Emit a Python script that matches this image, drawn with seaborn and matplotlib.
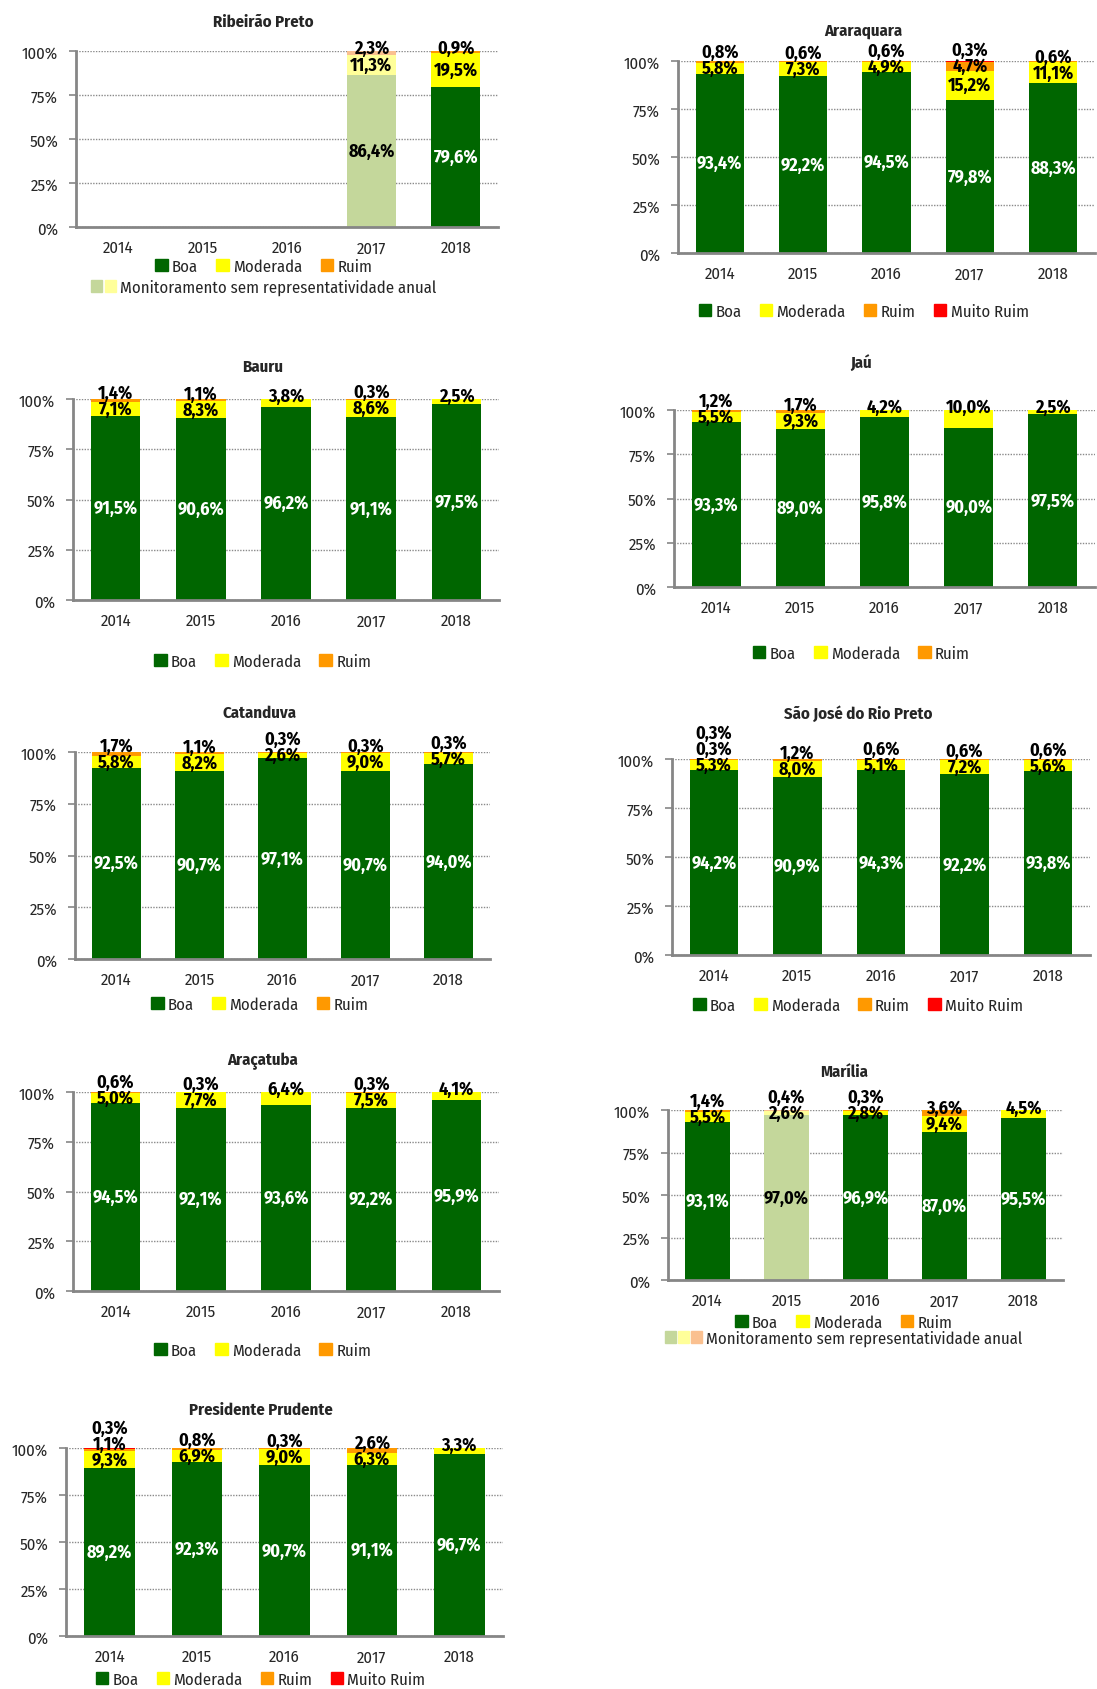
import numpy as np
import pandas as pd
import matplotlib
matplotlib.use('Agg')
import matplotlib.pyplot as plt
import seaborn as sns
from matplotlib import font_manager
from matplotlib.patches import Patch
from matplotlib.legend_handler import HandlerTuple

years = ['2014', '2015', '2016', '2017', '2018']

# Ribeirão Preto: sem dados 2014-2016, 2017 sem representatividade anual
rib_boa = [0, 0, 0, 86.4, 79.6]
rib_mod = [0, 0, 0, 11.3, 19.5]
rib_ruim = [0, 0, 0, 2.3, 0.9]
rib_sem = [False, False, False, True, False]

ara_boa = [93.4, 92.2, 94.5, 79.8, 88.3]
ara_mod = [5.8, 7.3, 4.9, 15.2, 11.1]
ara_ruim = [0.8, 0.6, 0.6, 4.7, 0.6]
ara_mr = [0, 0, 0, 0.3, 0]

bau_boa = [91.5, 90.6, 96.2, 91.1, 97.5]
bau_mod = [7.1, 8.3, 3.8, 8.6, 2.5]
bau_ruim = [1.4, 1.1, 0, 0.3, 0]

jau_boa = [93.3, 89.0, 95.8, 90.0, 97.5]
jau_mod = [5.5, 9.3, 4.2, 10.0, 2.5]
jau_ruim = [1.2, 1.7, 0, 0, 0]

cat_boa = [92.5, 90.7, 97.1, 90.7, 94.0]
cat_mod = [5.8, 8.2, 2.6, 9.0, 5.7]
cat_ruim = [1.7, 1.1, 0.3, 0.3, 0.3]

sjrp_boa = [94.2, 90.9, 94.3, 92.2, 93.8]
sjrp_mod = [5.3, 8.0, 5.1, 7.2, 5.6]
sjrp_ruim = [0.3, 1.2, 0.6, 0.6, 0.6]
sjrp_mr = [0.3, 0, 0, 0, 0]

arc_boa = [94.5, 92.1, 93.6, 92.2, 95.9]
arc_mod = [5.0, 7.7, 6.4, 7.5, 4.1]
arc_ruim = [0.6, 0.3, 0, 0.3, 0]

# Marília: 2015 sem representatividade anual
mar_boa = [93.1, 97.0, 96.9, 87.0, 95.5]
mar_mod = [5.5, 2.6, 2.8, 9.4, 4.5]
mar_ruim = [1.4, 0.4, 0.3, 3.6, 0]
mar_sem = [False, True, False, False, False]

pp_boa = [89.2, 92.3, 90.7, 91.1, 96.7]
pp_mod = [9.3, 6.9, 9.0, 6.3, 3.3]
pp_ruim = [1.1, 0.8, 0.3, 2.6, 0]
pp_mr = [0.3, 0, 0, 0, 0]

names = ['Boa', 'Moderada', 'Ruim', 'Muito Ruim']
COL = {'Boa': '#006600', 'Moderada': '#FFFF00', 'Ruim': '#FF9900', 'Muito Ruim': '#FF0000'}
PALE = {'Boa': '#C4D79B', 'Moderada': '#FFFF99', 'Ruim': '#FAC090', 'Muito Ruim': '#FF9999'}
GRAY = '#868686'

sns.set_style('white')
avail = {f.name for f in font_manager.fontManager.ttflist}
family = 'DejaVu Sans'
for cand in ['Fira Sans Condensed', 'PT Sans Narrow', 'Roboto Condensed',
             'Open Sans Condensed', 'Asap Condensed', 'Liberation Sans Narrow']:
    if cand in avail:
        family = cand
        break
plt.rcParams['font.family'] = [family, 'DejaVu Sans']

W, H = 1097, 1690
fig = plt.figure(figsize=(W / 100, H / 100), dpi=100)
fig.patch.set_facecolor('white')


def fmt(v):
    return f'{v:.1f}'.replace('.', ',') + '%'


def panel(title, boa, mod, ruim, mr, sem, box, title_y, leg_y, n_leg, pale_n=0):
    L, R, T, B = box
    ax = fig.add_axes([L / W, 1 - B / H, (R - L) / W, (B - T) / H])
    layers = np.array([boa, mod, ruim, mr], dtype=float)
    cum = np.cumsum(layers, axis=0)
    # stacked bars: draw cumulative totals from top layer down
    for i in range(3, -1, -1):
        df = pd.DataFrame({'ano': years, 'valor': cum[i]})
        cols = [PALE[names[i]] if s else COL[names[i]] for s in sem]
        sns.barplot(data=df, x='ano', y='valor', hue='ano', palette=cols,
                    legend=False, width=0.58, saturation=1, errorbar=None,
                    linewidth=0, ax=ax)
    ax.set_xlim(-0.5, 4.5)
    ax.set_ylim(0, 100)
    ax.set_xlabel('')
    ax.set_ylabel('')
    ax.set_yticks([0, 25, 50, 75, 100])
    ax.set_yticklabels(['0%', '25%', '50%', '75%', '100%'], fontsize=12)
    ax.set_xticks(range(5))
    ax.set_xticklabels(years, fontsize=12)
    ax.set_xticks(np.arange(-0.5, 5, 1), minor=True)
    ax.tick_params(axis='x', which='major', length=0, pad=9)
    ax.tick_params(axis='x', which='minor', length=5, width=1.2, color=GRAY, direction='out')
    ax.tick_params(axis='y', length=5, width=1.2, color=GRAY, direction='out', pad=8, left=True)
    ax.yaxis.grid(True, linestyle=(0, (1, 1)), color='#8a8a8a', linewidth=1)
    ax.set_axisbelow(True)
    for s in ['top', 'right']:
        ax.spines[s].set_visible(False)
    for s in ['left', 'bottom']:
        ax.spines[s].set_color(GRAY)
        ax.spines[s].set_linewidth(2)

    # data labels
    gap = 16 / (B - T) * 100
    for j in range(5):
        if boa[j] > 0:
            ax.text(j, boa[j] / 2, fmt(boa[j]), ha='center', va='center',
                    fontsize=13, fontweight='bold',
                    color='black' if sem[j] else 'white')
        items = [(layers[k][j], cum[k - 1][j]) for k in range(1, 4) if layers[k][j] > 0]
        prev = None
        for n, (v, base) in enumerate(items):
            y = base + v / 2
            if prev is not None:
                y = max(y, prev + gap)
            if n == len(items) - 1:
                y = max(y, 101.5)
            ax.text(j, y, fmt(v), ha='center', va='center', fontsize=13,
                    fontweight='bold', color='black', clip_on=False)
            prev = y

    cx = (L + 0.445 * (R - L)) / W
    fig.text(cx, 1 - title_y / H, title, ha='center', va='center',
             fontsize=12, fontweight='bold')

    handles = [Patch(color=COL[nm]) for nm in names[:n_leg]]
    ys = leg_y if isinstance(leg_y, list) else [leg_y]
    fig.legend(handles, names[:n_leg], loc='center', bbox_to_anchor=(cx, 1 - ys[0] / H),
               ncol=n_leg, frameon=False, fontsize=12, handlelength=0.75,
               handleheight=0.75, handletextpad=0.25, columnspacing=1.1,
               borderpad=0, borderaxespad=0)
    if pale_n:
        tup = tuple(Patch(color=PALE[nm]) for nm in names[:pale_n])
        fig.legend([tup], ['Monitoramento sem representatividade anual'], loc='center',
                   bbox_to_anchor=(cx, 1 - ys[1] / H), frameon=False, fontsize=12,
                   handlelength=0.75 * pale_n, handleheight=0.75, handletextpad=0.25,
                   borderpad=0, borderaxespad=0,
                   handler_map={tuple: HandlerTuple(ndivide=None, pad=0.15)})
    return ax


no = [False] * 5
z = [0] * 5
panel('Ribeirão Preto', rib_boa, rib_mod, rib_ruim, z, rib_sem,
      (76, 498, 52, 228), 22, [267, 288], 3, pale_n=2)
panel('Araraquara', ara_boa, ara_mod, ara_ruim, ara_mr, no,
      (678, 1095, 62, 254), 31, 312, 4)
panel('Bauru', bau_boa, bau_mod, bau_ruim, z, no,
      (73, 499, 400, 601), 367, 662, 3)
panel('Jaú', jau_boa, jau_mod, jau_ruim, z, no,
      (674, 1095, 411, 588), 364, 654, 3)
panel('Catanduva', cat_boa, cat_mod, cat_ruim, z, no,
      (75, 490, 753, 960), 713, 1005, 3)
panel('São José do Rio Preto', sjrp_boa, sjrp_mod, sjrp_ruim, sjrp_mr, no,
      (672, 1090, 760, 956), 714, 1006, 4)
panel('Araçatuba', arc_boa, arc_mod, arc_ruim, z, no,
      (73, 499, 1093, 1292), 1061, 1351, 3)
panel('Marília', mar_boa, mar_mod, mar_ruim, z, mar_sem,
      (668, 1063, 1111, 1281), 1072, [1323, 1339], 3, pale_n=3)
panel('Presidente Prudente', pp_boa, pp_mod, pp_ruim, pp_mr, no,
      (66, 503, 1449, 1637), 1410, 1680, 4)

fig.savefig('out.png', dpi=100, facecolor='white')
